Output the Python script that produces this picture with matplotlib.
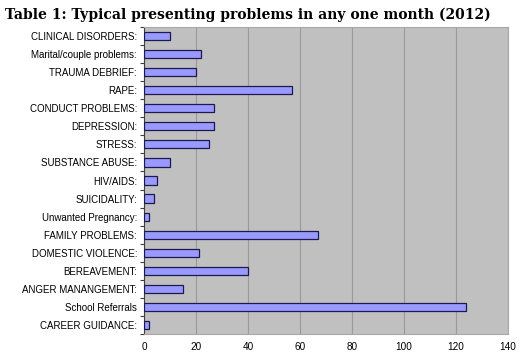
import matplotlib
matplotlib.use("Agg")
import matplotlib.pyplot as plt
import numpy as np

categories = [
    "CLINICAL DISORDERS:",
    "Marital/couple problems:",
    "TRAUMA DEBRIEF:",
    "RAPE:",
    "CONDUCT PROBLEMS:",
    "DEPRESSION:",
    "STRESS:",
    "SUBSTANCE ABUSE:",
    "HIV/AIDS:",
    "SUICIDALITY:",
    "Unwanted Pregnancy:",
    "FAMILY PROBLEMS:",
    "DOMESTIC VIOLENCE:",
    "BEREAVEMENT:",
    "ANGER MANANGEMENT:",
    "School Referrals",
    "CAREER GUIDANCE:",
]
values = [10, 22, 20, 57, 27, 27, 25, 10, 5, 4, 2, 67, 21, 40, 15, 124, 2]
x_ticks = [0, 20, 40, 60, 80, 100, 120, 140]
title = "Table 1: Typical presenting problems in any one month (2012)"

fig = plt.figure(figsize=(5.22, 3.60), dpi=100)
ax = fig.add_axes([144/522, 1 - 334/360, (508-144)/522, (334-27)/360])
ax.set_facecolor("#c0c0c0")

n = len(categories)
y = np.arange(n)
ax.barh(y, values, height=0.45, color="#9999ff", edgecolor="#1a1a4d", linewidth=0.9, zorder=3)
ax.set_ylim(n - 0.5, -0.5)
ax.set_xlim(0, 140)
ax.set_xticks(x_ticks)
ax.set_xticklabels([str(t) for t in x_ticks], fontsize=7.2, family="Liberation Sans")
ax.grid(axis="x", color="#9a9a9a", linewidth=0.8, zorder=0)
ax.tick_params(axis="x", length=0, pad=6)

ax.set_yticks(y)
ax.set_yticklabels(categories, fontsize=7, family="Liberation Sans")
ax.tick_params(axis="y", length=0, pad=5)
ax.set_yticks(np.arange(n + 1) - 0.5, minor=True)
ax.tick_params(axis="y", which="minor", length=3, color="#404040", width=0.8)

for s in ["top", "right", "bottom"]:
    ax.spines[s].set_color("#a8a8a8")
    ax.spines[s].set_linewidth(0.8)
ax.spines["left"].set_color("#404040")
ax.spines["left"].set_linewidth(0.8)

fig.text(5/522, 1 - 15/360, title, fontsize=10, fontweight="bold",
         family="DejaVu Serif", va="center", ha="left")

fig.savefig("out.png", dpi=100)
